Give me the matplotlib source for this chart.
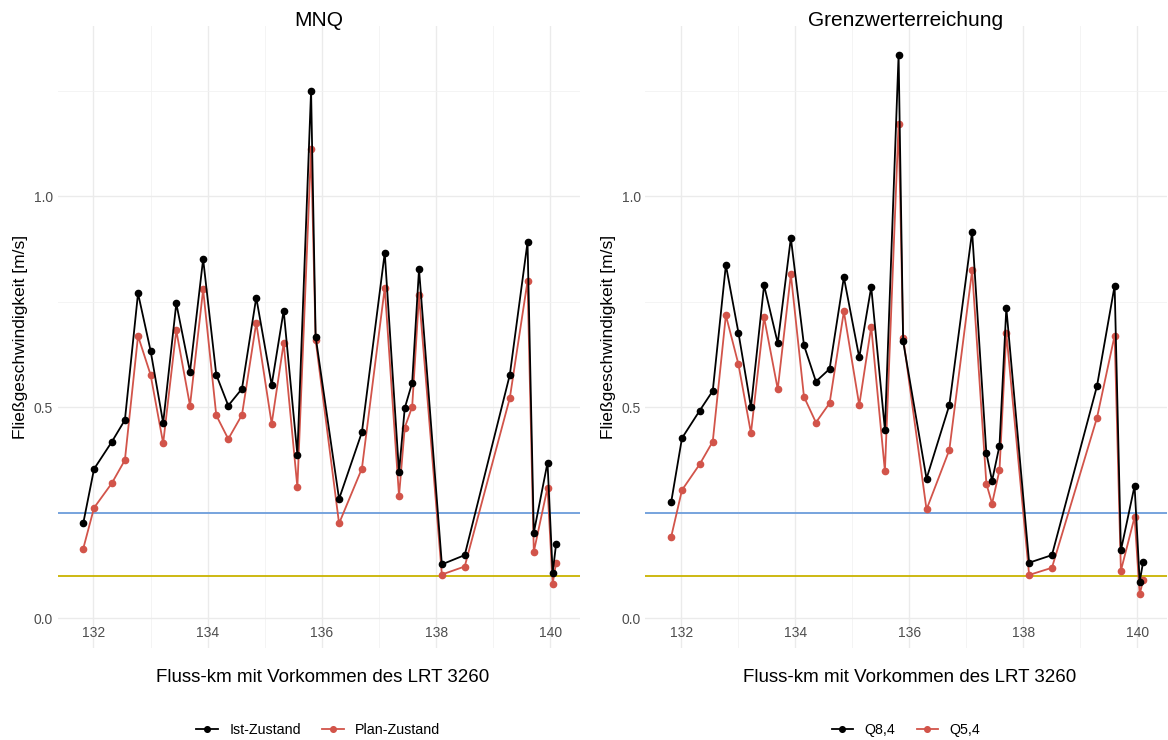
import matplotlib
matplotlib.use("Agg")
import matplotlib.pyplot as plt
from matplotlib.ticker import MultipleLocator

plt.rcParams['font.family'] = ['Liberation Sans', 'DejaVu Sans']

# Fluss-km der Messpunkte
km = [131.82, 132.01, 132.32, 132.55, 132.78, 133.00, 133.22, 133.45, 133.69,
      133.92, 134.15, 134.36, 134.60, 134.85, 135.12, 135.33, 135.57, 135.81,
      135.89, 136.30, 136.70, 137.10, 137.35, 137.45, 137.58, 137.70, 138.10,
      138.50, 139.29, 139.60, 139.71, 139.95, 140.04, 140.10]

# MNQ
ist = [0.225, 0.354, 0.418, 0.470, 0.770, 0.634, 0.463, 0.746, 0.584, 0.851,
       0.577, 0.504, 0.544, 0.760, 0.553, 0.729, 0.388, 1.250, 0.667, 0.283,
       0.441, 0.866, 0.346, 0.498, 0.558, 0.827, 0.128, 0.150, 0.577, 0.891,
       0.203, 0.369, 0.108, 0.176]
plan = [0.165, 0.262, 0.320, 0.375, 0.669, 0.577, 0.415, 0.682, 0.504, 0.779,
        0.481, 0.425, 0.482, 0.700, 0.461, 0.652, 0.311, 1.112, 0.659, 0.225,
        0.355, 0.783, 0.290, 0.452, 0.501, 0.765, 0.104, 0.123, 0.522, 0.799,
        0.158, 0.310, 0.082, 0.132]

# Grenzwerterreichung
q84 = [0.275, 0.427, 0.492, 0.539, 0.837, 0.677, 0.500, 0.789, 0.652, 0.901,
       0.647, 0.561, 0.591, 0.808, 0.618, 0.785, 0.447, 1.335, 0.656, 0.331,
       0.505, 0.916, 0.391, 0.326, 0.409, 0.735, 0.132, 0.150, 0.550, 0.788,
       0.161, 0.314, 0.087, 0.134]
q54 = [0.193, 0.304, 0.365, 0.419, 0.718, 0.602, 0.439, 0.713, 0.543, 0.815,
       0.525, 0.464, 0.510, 0.727, 0.505, 0.691, 0.349, 1.172, 0.665, 0.258,
       0.399, 0.824, 0.319, 0.272, 0.351, 0.676, 0.103, 0.120, 0.475, 0.670,
       0.113, 0.240, 0.057, 0.091]

grenze_blau = 0.25
grenze_gelb = 0.1

panels = [
    ("MNQ", ist, plan, ["Ist-Zustand", "Plan-Zustand"]),
    ("Grenzwerterreichung", q84, q54, ["Q8,4", "Q5,4"]),
]

W, H = 1168, 740
fig = plt.figure(figsize=(W / 100, H / 100), dpi=100)

# Achsen in Pixeln: links, oben, rechts, unten
rects = [(57.5, 26, 579.5, 648), (645.5, 26, 1166.5, 648)]

for (titel, s1, s2, namen), (l, t, r, b) in zip(panels, rects):
    ax = fig.add_axes([l / W, 1 - b / H, (r - l) / W, (b - t) / H])
    ax.set_xlim(131.37, 140.51)
    ax.set_ylim(-0.07, 1.403)
    for sp in ax.spines.values():
        sp.set_visible(False)
    ax.xaxis.set_major_locator(MultipleLocator(2))
    ax.xaxis.set_minor_locator(MultipleLocator(1))
    ax.yaxis.set_major_locator(MultipleLocator(0.5))
    ax.yaxis.set_minor_locator(MultipleLocator(0.25))
    ax.grid(which='major', color='#ebebeb', lw=1.0)
    ax.grid(which='minor', color='#f2f2f2', lw=0.6)
    ax.set_axisbelow(True)
    ax.tick_params(which='both', length=0, labelsize=10, labelcolor='#4d4d4d')
    ax.tick_params(axis='x', pad=-16)
    ax.yaxis.set_major_formatter(matplotlib.ticker.FormatStrFormatter('%.1f'))

    ax.axhline(grenze_blau, color='#6c9ddb', lw=1.3, zorder=1)
    ax.axhline(grenze_gelb, color='#c9b300', lw=1.3, zorder=1)

    h1, = ax.plot(km, s1, color='black', lw=1.3, marker='o', ms=4.5, zorder=4)
    h2, = ax.plot(km, s2, color='#d2544a', lw=1.3, marker='o', ms=4.5, zorder=3)

    ax.set_ylabel("Fließgeschwindigkeit [m/s]", fontsize=12.5, labelpad=4)
    mitte = (l + r) / 2
    fig.text((mitte + 4) / W, 1 - 677 / H, "Fluss-km mit Vorkommen des LRT 3260",
             ha='center', va='center', fontsize=13.5)
    fig.text(mitte / W, 1 - 20 / H, titel, ha='center', va='center', fontsize=15)

    fig.legend([h1, h2], namen, loc='center', ncol=2,
               bbox_to_anchor=(mitte / W, 1 - 730 / H), frameon=False,
               fontsize=10.3, handlelength=1.5, columnspacing=1.5, markerscale=0.9)

fig.savefig("out.png", dpi=100)
